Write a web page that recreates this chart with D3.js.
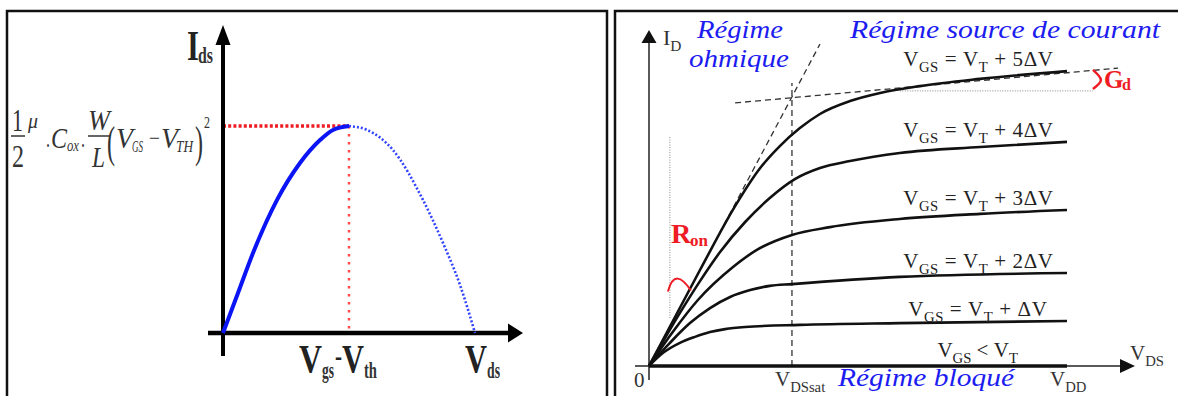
<!DOCTYPE html>
<html lang="fr">
<head>
<meta charset="UTF-8">
<title>MOSFET - Ids(Vds)</title>
<script src="https://cdn.jsdelivr.net/npm/d3@7/dist/d3.min.js"></script>
<style>
  body{margin:0;background:#fff;}
  svg{display:block;}
  svg text{font-family:"Liberation Serif","Times New Roman",Times,serif;}
</style>
</head>
<body>
<svg width="1178" height="396" font-family="Liberation Serif, Times New Roman, serif"></svg>
<script>
// ---- left panel : Ids = f(Vds), Vds in units of (Vgs-Vth), Ids in units of Imax
var leftSolidV = [0, 0.119, 0.238, 0.429, 0.611, 0.770, 0.873, 1];
var leftSolidI = [0, 0.193, 0.386, 0.643, 0.821, 0.932, 0.981, 1];
var leftDotV   = [1, 1.143, 1.349, 1.587, 1.746, 1.881, 2];
var leftDotI   = [1, 0.981, 0.884, 0.643, 0.435, 0.232, 0];

// ---- right panel : ID = f(VDS) for each VGS (VDD = 10)
var c5Vds = [0, 1.22, 2.06, 2.66, 3.13, 3.61, 4.09, 4.81, 5.53, 6.48, 7.92, 10];
var c5Id  = [0, 3.20, 5.33, 6.60, 7.33, 7.93, 8.40, 8.83, 9.10, 9.33, 9.57, 9.83];
var c4Vds = [0, 0.74, 1.22, 1.70, 2.30, 2.89, 3.49, 4.09, 4.81, 6.00, 7.92, 10];
var c4Id  = [0, 1.77, 2.83, 3.80, 4.80, 5.60, 6.23, 6.60, 6.83, 7.10, 7.30, 7.47];
var c3Vds = [0, 0.55, 1.17, 2.01, 2.58, 3.42, 4.33, 6.00, 7.92, 10];
var c3Id  = [0, 1.10, 2.20, 3.30, 3.87, 4.37, 4.63, 4.90, 5.07, 5.20];
var c2Vds = [0, 0.50, 0.98, 1.46, 1.94, 2.42, 2.89, 3.42, 6.00, 10];
var c2Id  = [0, 0.77, 1.43, 1.93, 2.30, 2.53, 2.67, 2.73, 2.97, 3.10];
var c1Vds = [0, 0.33, 0.74, 1.10, 1.46, 1.82, 2.30, 3.61, 6.00, 10];
var c1Id  = [0, 0.43, 0.77, 0.97, 1.13, 1.23, 1.30, 1.37, 1.43, 1.50];
var c0Vds = [0, 10];
var c0Id  = [0, 0];
var gsSteps = ["5\u0394V", "4\u0394V", "3\u0394V", "2\u0394V", "\u0394V"];

var vdsSat = 3.42;          // knee of the top curve
var tangentEnd = [4.09, 10.73];
var satLine = [[2.06, 8.77], [11.22, 9.93]];
var gdRef = 9.17;            // dotted reference for Gd
var ronX = 0.50;

var svg = d3.select("svg");
var blue = "#1c1cf0", red = "#ee1c24";

function zip(a, b){ return a.map(function(v, i){ return [v, b[i]]; }); }

// panel frames
svg.append("rect").attr("x", 7).attr("y", 11).attr("width", 600).attr("height", 400)
  .attr("fill", "none").attr("stroke", "#111").attr("stroke-width", 2.5);
svg.append("rect").attr("x", 615).attr("y", 11).attr("width", 600).attr("height", 400)
  .attr("fill", "none").attr("stroke", "#111").attr("stroke-width", 2.5);

// ================= LEFT =================
var lx = d3.scaleLinear().domain([0, 2]).range([223, 475]);
var ly = d3.scaleLinear().domain([0, 1]).range([333, 126]);
var L = svg.append("g");
var lline = d3.line().x(function(d){return lx(d[0]);}).y(function(d){return ly(d[1]);})
  .curve(d3.curveMonotoneX);

// red dotted guides
L.append("line").attr("x1", lx(0)).attr("x2", lx(1)).attr("y1", ly(1)).attr("y2", ly(1))
  .attr("stroke", red).attr("stroke-width", 3.5).attr("stroke-dasharray", "3 2.2");
L.append("line").attr("x1", lx(1)).attr("x2", lx(1)).attr("y1", ly(1)).attr("y2", ly(0))
  .attr("stroke", "#ff4a4a").attr("stroke-width", 2.5).attr("stroke-dasharray", "2.5 5.5");

// axes
L.append("line").attr("x1", lx(0)).attr("x2", lx(0)).attr("y1", ly(0) + 23).attr("y2", 40)
  .attr("stroke", "#000").attr("stroke-width", 4);
L.append("path").attr("d", "M" + lx(0) + ",25 l7.5,20 l-15,0 z").attr("fill", "#000");
L.append("line").attr("x1", lx(0) - 15).attr("x2", 510).attr("y1", ly(0)).attr("y2", ly(0))
  .attr("stroke", "#000").attr("stroke-width", 4.5);
L.append("path").attr("d", "M523," + ly(0) + " l-15,-9.5 l0,19 z").attr("fill", "#000");

// curves
L.append("path").datum(zip(leftSolidV, leftSolidI)).attr("d", lline)
  .attr("fill", "none").attr("stroke", "#0a14f5").attr("stroke-width", 4);
L.append("path").datum(zip(leftDotV, leftDotI)).attr("d", lline)
  .attr("fill", "none").attr("stroke", "#3344ff").attr("stroke-width", 2.6)
  .attr("stroke-dasharray", "2 2");

// labels (condensed serif)
function ct(g, x, y, s, size, len, opt){
  opt = opt || {};
  return g.append("text").attr("x", x).attr("y", y).text(s)
    .attr("font-size", size).attr("font-weight", opt.bold ? "bold" : "normal")
    .attr("font-style", opt.italic ? "italic" : "normal")
    .attr("fill", opt.fill || "#222")
    .attr("textLength", len).attr("lengthAdjust", "spacingAndGlyphs");
}
ct(L, 187, 60, "I", 42, 12, {bold:1, fill:"#222"});
ct(L, 198, 63, "ds", 24, 15, {bold:1, fill:"#333"});
ct(L, 299, 372, "V", 40, 23, {bold:1});
ct(L, 322, 378, "gs", 24, 12, {bold:1, fill:"#333"});
ct(L, 335, 366, "-", 30, 7, {bold:1});
ct(L, 342, 372, "V", 40, 22, {bold:1});
ct(L, 364, 378, "th", 24, 13, {bold:1, fill:"#333"});
ct(L, 465, 372, "V", 40, 22, {bold:1});
ct(L, 487, 378, "ds", 24, 13, {bold:1, fill:"#333"});

// formula 1/2 mu Cox W/L (VGS - VTH)^2
var fc = "#333";
ct(L, 12, 131, "1", 32, 11, {fill:fc});
L.append("line").attr("x1", 11).attr("x2", 25).attr("y1", 136).attr("y2", 136).attr("stroke", fc).attr("stroke-width", 1.5);
ct(L, 12, 167, "2", 32, 12, {fill:fc});
ct(L, 28, 128, "\u03bc", 20, 10, {italic:1, fill:fc});
ct(L, 46, 147, ".", 26, 4, {fill:fc});
ct(L, 51, 148, "C", 30, 16, {italic:1, fill:fc});
ct(L, 67, 151, "ox", 17, 12, {italic:1, fill:fc});
ct(L, 81, 147, ".", 26, 4, {fill:fc});
ct(L, 88, 130, "W", 30, 22, {italic:1, fill:fc});
L.append("line").attr("x1", 88).attr("x2", 110).attr("y1", 136).attr("y2", 136).attr("stroke", fc).attr("stroke-width", 1.5);
ct(L, 92, 167, "L", 30, 13, {italic:1, fill:fc});
ct(L, 107, 157, "(", 44, 8, {fill:fc});
ct(L, 116, 148, "V", 30, 17, {italic:1, fill:fc});
ct(L, 132, 152, "GS", 16, 11, {italic:1, fill:fc});
ct(L, 149, 146, "\u2212", 24, 11, {fill:fc});
ct(L, 161, 148, "V", 30, 17, {italic:1, fill:fc});
ct(L, 176, 152, "TH", 16, 17, {italic:1, fill:fc});
ct(L, 195, 157, ")", 44, 8, {fill:fc});
ct(L, 204, 128, "2", 16, 6, {fill:fc});

// ================= RIGHT =================
var rx = d3.scaleLinear().domain([0, 10]).range([649, 1067]);
var ry = d3.scaleLinear().domain([0, 10]).range([366, 66]);
var R = svg.append("g");
var rline = d3.line().x(function(d){return rx(d[0]);}).y(function(d){return ry(d[1]);})
  .curve(d3.curveMonotoneX);

// dotted grey references
R.append("line").attr("x1", rx(ronX)).attr("x2", rx(ronX)).attr("y1", ry(7.63)).attr("y2", ry(1.6))
  .attr("stroke", "#888").attr("stroke-width", 1).attr("stroke-dasharray", "1 1.5");
R.append("line").attr("x1", rx(6.0)).attr("x2", rx(10.62)).attr("y1", ry(gdRef)).attr("y2", ry(gdRef))
  .attr("stroke", "#888").attr("stroke-width", 1).attr("stroke-dasharray", "1 1.5");

// dashed construction lines
R.append("line").attr("x1", rx(0)).attr("y1", ry(0)).attr("x2", rx(tangentEnd[0])).attr("y2", ry(tangentEnd[1]))
  .attr("stroke", "#333").attr("stroke-width", 1.3).attr("stroke-dasharray", "6 4");
R.append("line").attr("x1", rx(satLine[0][0])).attr("y1", ry(satLine[0][1]))
  .attr("x2", rx(satLine[1][0])).attr("y2", ry(satLine[1][1]))
  .attr("stroke", "#333").attr("stroke-width", 1.3).attr("stroke-dasharray", "6 4");
R.append("line").attr("x1", rx(vdsSat)).attr("x2", rx(vdsSat)).attr("y1", ry(0)).attr("y2", ry(9.43))
  .attr("stroke", "#333").attr("stroke-width", 1.3).attr("stroke-dasharray", "6 4");

// axes
R.append("line").attr("x1", rx(0)).attr("x2", rx(0)).attr("y1", 380).attr("y2", 40)
  .attr("stroke", "#222").attr("stroke-width", 1.5);
R.append("path").attr("d", "M" + rx(0) + ",30 l7.5,13 l-15,0 z").attr("fill", "#111");
R.append("line").attr("x1", 635).attr("x2", 1125).attr("y1", ry(0)).attr("y2", ry(0))
  .attr("stroke", "#222").attr("stroke-width", 1.5);
R.append("path").attr("d", "M1135," + ry(0) + " l-15,-7 l0,14 z").attr("fill", "#111");

// characteristic curves
var curves = [zip(c5Vds, c5Id), zip(c4Vds, c4Id), zip(c3Vds, c3Id), zip(c2Vds, c2Id), zip(c1Vds, c1Id), zip(c0Vds, c0Id)];
R.selectAll("path.curve").data(curves).enter().append("path").attr("class", "curve")
  .attr("d", rline).attr("fill", "none").attr("stroke", "#111")
  .attr("stroke-width", function(d, i){ return i === 5 ? 3.5 : 2.6; });

// curve labels
function sublabel(g, x, y, parts, size, fill){
  var t = g.append("text").attr("x", x).attr("y", y).attr("font-size", size).attr("fill", fill || "#222");
  var down = false;
  parts.forEach(function(p){
    var sub = p.charAt(0) === "_";
    var s = sub ? p.slice(1) : p;
    var ts = t.append("tspan").text(s);
    if(sub && !down){ ts.attr("dy", size * 0.28).attr("font-size", size * 0.7); down = true; }
    else if(sub){ ts.attr("font-size", size * 0.7); }
    else if(down){ ts.attr("dy", -size * 0.28); down = false; }
  });
  return t;
}
var ends = [c5Id, c4Id, c3Id, c2Id, c1Id];
gsSteps.forEach(function(s, i){
  var x0 = i === 4 ? 6.2 : 6.08;
  sublabel(R, rx(x0), ry(ends[i][ends[i].length - 1]) - 5,
    ["V", "_GS", "\u00a0=\u00a0V", "_T", "\u00a0+\u00a0" + s], 21)
    .attr("letter-spacing", 0.6);
});
sublabel(R, rx(6.9), ry(0) - 9, ["V", "_GS", "\u00a0<\u00a0V", "_T"], 21);

sublabel(R, 663, 45, ["I", "_D"], 22, "#333");
R.append("text").attr("x", 634).attr("y", 387).attr("font-size", 21).attr("fill", "#333").text("0");
sublabel(R, rx(vdsSat) - 17, 386, ["V", "_DSsat"], 21, "#333");
sublabel(R, rx(10) - 17, 386, ["V", "_DD"], 21, "#333");
sublabel(R, 1130, 360, ["V", "_DS"], 21, "#333");

// blue region titles
function blueText(x, y, s, len){
  R.append("text").attr("x", x).attr("y", y).text(s).attr("font-size", 25)
    .attr("font-style", "italic").attr("fill", blue)
    .attr("textLength", len).attr("lengthAdjust", "spacingAndGlyphs");
}
blueText(697, 38, "R\u00e9gime", 86);
blueText(689, 67, "ohmique", 100);
blueText(850, 38, "R\u00e9gime source de courant", 310);
blueText(838, 386, "R\u00e9gime bloqu\u00e9", 176);

// red annotations
R.append("text").attr("x", 671).attr("y", 243).attr("font-size", 28).attr("font-weight", "bold")
  .attr("fill", red).text("R");
R.append("text").attr("x", 690).attr("y", 246).attr("font-size", 17).attr("font-weight", "bold")
  .attr("fill", red).text("on");
var ax = rx(ronX) - 2, ay = ry(2.55);
R.append("path").attr("d", "M" + ax + "," + (ay + 2) + " C" + (ax + 5) + "," + (ay - 16) + " " + (ax + 13) + "," + (ay - 14) + " " + (ax + 23) + "," + (ay + 1))
  .attr("fill", "none").attr("stroke", red).attr("stroke-width", 2);
var gx = rx(10.62), gy = ry(gdRef);
R.append("path").attr("d", "M" + gx + "," + (gy - 21) + " Q" + (gx + 8) + "," + (gy - 14) + " " + (gx + 8) + "," + (gy - 11) + " Q" + (gx + 8) + "," + (gy - 8) + " " + gx + "," + (gy - 2))
  .attr("fill", "none").attr("stroke", red).attr("stroke-width", 2.5);
R.append("text").attr("x", 1104).attr("y", 88).attr("font-size", 25).attr("font-weight", "bold")
  .attr("fill", red).text("G");
R.append("text").attr("x", 1122).attr("y", 90).attr("font-size", 16).attr("font-weight", "bold")
  .attr("fill", red).text("d");
</script>
</body>
</html>
